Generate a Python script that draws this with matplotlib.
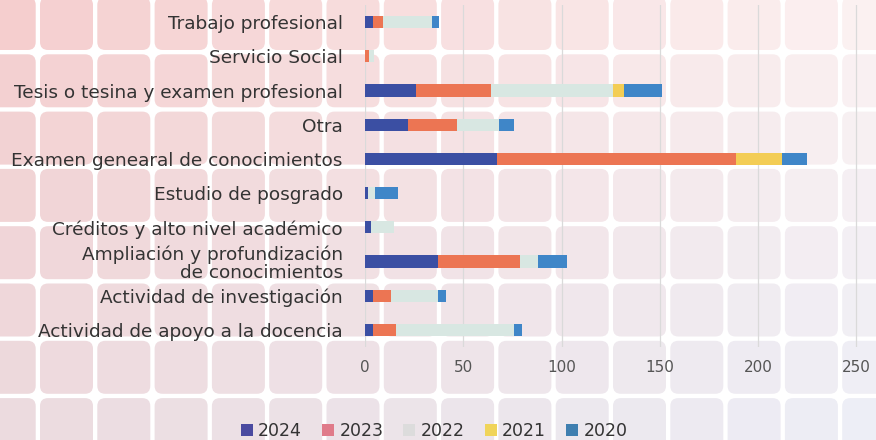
import matplotlib
matplotlib.use('Agg')
import matplotlib.pyplot as plt
from matplotlib.patches import FancyBboxPatch, Patch
import numpy as np

plt.rcParams['font.family'] = ['DejaVu Sans']

# =============================================================================
# Data (top to bottom, as shown in the chart)
# =============================================================================
categorias = ['Trabajo profesional', 'Servicio Social',
              'Tesis o tesina y examen profesional', 'Otra',
              'Examen genearal de conocimientos', 'Estudio de posgrado',
              'Créditos y alto nivel académico',
              'Ampliación y profundización\nde conocimientos',
              'Actividad de investigación', 'Actividad de apoyo a la docencia']
v2024 = [4, 0, 26, 22, 67, 1.5, 3, 37, 4, 4]
v2023 = [5, 2, 38, 25, 122, 0, 0, 42, 9, 12]
v2022 = [25, 2.5, 62, 21, 0, 3.5, 12, 9, 24, 60]
v2021 = [0, 0, 6, 0, 23, 0, 0, 0, 0, 0]
v2020 = [3.5, 0, 19, 8, 13, 12, 0, 15, 4, 4]
anios = ['2024', '2023', '2022', '2021', '2020']
colores = ['#3b4fa3', '#ec7553', '#d8e7e2', '#f3cd55', '#3f86c8']
colores_leyenda = ['#4b4aa0', '#e07b8a', '#dcdcdc', '#f0d45a', '#3f7fb0']
xticks = [0, 50, 100, 150, 200, 250]

W, H = 876, 440
fig = plt.figure(figsize=(W / 100, H / 100), dpi=100)

# -----------------------------------------------------------------------------
# Decorative background: grid of rounded tiles with a soft gradient
# -----------------------------------------------------------------------------
bg = fig.add_axes([0, 0, 1, 1], zorder=-1)
bg.set_xlim(0, W)
bg.set_ylim(H, 0)
bg.axis('off')
tl = np.array([245, 205, 205]); tr = np.array([252, 241, 241])
bl = np.array([236, 219, 223]); br = np.array([236, 238, 246])
period, size = 57.3, 53
for i in range(-1, 16):
    for j in range(0, 9):
        x0 = 40 + i * period
        y0 = -3 + j * period
        u = min(max((x0 + size / 2) / W, 0), 1)
        v = min(max((y0 + size / 2) / H, 0), 1)
        c = (tl * (1 - u) * (1 - v) + tr * u * (1 - v) + bl * (1 - u) * v + br * u * v) / 255
        bg.add_patch(FancyBboxPatch((x0 + 8, y0 + 8), size - 16, size - 16,
                                    boxstyle='round,pad=8', fc=c, ec='none'))

# -----------------------------------------------------------------------------
# Stacked horizontal bars
# -----------------------------------------------------------------------------
ax = fig.add_axes([365 / W, 1 - 347 / H, 511 / W, 342 / H])
ax.set_facecolor('none')
pos = np.arange(len(categorias))[::-1]
izq = np.zeros(len(categorias))
for nombre, vals, col in zip(anios, [v2024, v2023, v2022, v2021, v2020], colores):
    ax.barh(pos, vals, left=izq, height=0.36, color=col, zorder=3)
    izq = izq + np.array(vals)

ax.set_xlim(0, 260)
ax.set_ylim(-0.5, len(categorias) - 0.5)
ax.set_xticks(xticks)
ax.set_yticks(pos)
ax.set_yticklabels(categorias, fontsize=13.3, color='#333333', ha='right',
                   multialignment='right', linespacing=1.05)
ax.tick_params(axis='y', length=0, pad=16)
ax.tick_params(axis='x', length=0, pad=9, labelsize=11, labelcolor='#555555')
ax.grid(axis='x', color='#dadada', linewidth=0.9, zorder=0)
for s in ax.spines.values():
    s.set_visible(False)

handles = [Patch(facecolor=c, label=a) for a, c in zip(anios, colores_leyenda)]
fig.legend(handles=handles, loc='lower center', bbox_to_anchor=(434 / W, -0.035),
           ncol=5, frameon=False, fontsize=12.5, handlelength=0.7, handleheight=0.7,
           handletextpad=0.3, columnspacing=1.15, labelcolor='#333333')

plt.savefig('out.png', dpi=100)
